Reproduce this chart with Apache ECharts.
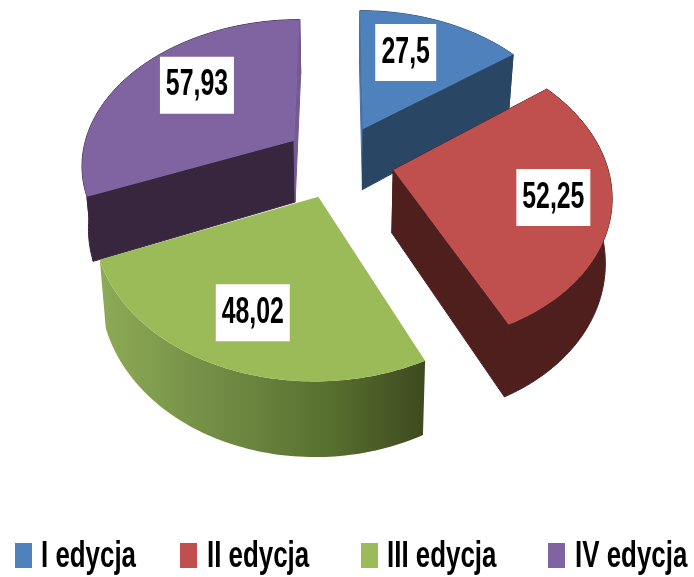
<!DOCTYPE html>
<html><head><meta charset="utf-8">
<style>html,body{margin:0;padding:0;background:#fff}#c{width:694px;height:577px}</style>
<script src="https://cdn.jsdelivr.net/npm/echarts@6/dist/echarts.min.js"></script>
</head><body><div id="c"></div>
<script>
const names = ['I edycja', 'II edycja', 'III edycja', 'IV edycja'];
const values = [27.5, 52.25, 48.02, 57.93];
const valueLabels = ['27,5', '52,25', '48,02', '57,93'];
const topColors = ['#4f81bd', '#c0504d', '#9bbb59', '#8064a2'];
const wallColors = ['#2a4665', '#4f1f1e', null, '#38263f'];
const edgeColors = ['#4674aa', null, null, '#735a92'];

// projection of the tilted pie plane
const P = {cx: 339, cy: 161, K: 213, M: 145, p: 0.15, ex: 0.26, ey: 0.255};
// where each label box sits: radius fraction along the slice's middle angle, then a small nudge
const labelRadius = [0.6, 0.78, 0.72, 0.62];
const labelNudge = [[-7, -9], [-9, -1], [1, -1], [3, -10]];
const swatchLeft = [15, 180, 361, 548];
const textLeft = [41, 207, 387, 575];

const total = values.reduce((a, b) => a + b, 0);
function project(X, Y) {
  const d = 1 - P.p * Y;
  return [P.cx + P.K * X / d, P.cy + P.M * Y / d];
}
function lower(pt) {
  return [pt[0] - (pt[0] - P.cx) * 0.025, pt[1] + 60 + 0.06 * (pt[1] - 120)];
}
function renderer(idx) {
  return function (params, api) {
    const value = api.value(0);
    let before = 0;
    for (let i = 0; i < idx; i++) before += values[i];
    const a0 = before / total * Math.PI * 2;
    const a1 = a0 + value / total * Math.PI * 2;
    const mid = (a0 + a1) / 2;
    const ox = Math.sin(mid) * P.ex, oy = -Math.cos(mid) * P.ey;
    const at = (a, r) => project(ox + Math.sin(a) * r, oy - Math.cos(a) * r);
    const rim = [];
    const steps = 80;
    for (let i = 0; i <= steps; i++) rim.push(at(a0 + (a1 - a0) * i / steps, 1));
    const apex = at(0, 0);
    const rimLow = rim.map(lower);
    const apexLow = lower(apex);
    let wall = wallColors[idx];
    if (!wall) {
      wall = new echarts.graphic.LinearGradient(0, 0, 1, 0, [
        {offset: 0, color: '#8dab56'},
        {offset: 0.35, color: '#738d45'},
        {offset: 0.7, color: '#58702f'},
        {offset: 1, color: '#3d4a1f'}
      ]);
    }
    const children = [];
    const poly = (points, fill, stroke) => children.push({type: 'polygon', shape: {points},
      style: stroke ? {fill, stroke, lineWidth: 1} : {fill}});
    const seam = wallColors[idx];
    const startFace = [apex, rim[0], rimLow[0], apexLow];
    const endFace = [apex, rim[steps], rimLow[steps], apexLow];
    poly(rim.concat(rimLow.slice().reverse()), wall, seam);
    // the green slice shows only its curved wall; its cut faces are hidden from view
    if (idx !== 2) {
      // the thin faces seen nearly edge-on beside the gap at the top are lighter
      if (idx === 0) poly(startFace, edgeColors[idx], edgeColors[idx]); else poly(startFace, wall, seam);
      if (idx === 3) poly(endFace, edgeColors[idx], edgeColors[idx]); else poly(endFace, wall, seam);
    }
    poly([apex].concat(rim), topColors[idx]);
    const lp = at(mid, labelRadius[idx]);
    const cx = lp[0] + labelNudge[idx][0], cy = lp[1] + labelNudge[idx][1];
    const w = idx === 0 ? 61 : 74, h = 57;
    children.push({type: 'rect', shape: {x: cx - w / 2, y: cy - h / 2, width: w, height: h}, style: {fill: '#ffffff'}});
    children.push({type: 'text', x: cx, y: cy, scaleX: 0.69, scaleY: 1,
      style: {text: valueLabels[idx], fontFamily: '"Liberation Sans",sans-serif', fontSize: 36, fontWeight: 'bold', fill: '#000', align: 'center', verticalAlign: 'middle'}});
    return {type: 'group', children};
  };
}
const drawOrder = [0, 3, 1, 2];
const option = {
  animation: false,
  backgroundColor: '#ffffff',
  legend: names.map((n, i) => ({
    data: [n], left: swatchLeft[i], top: 543, padding: 0,
    itemWidth: 17, itemHeight: 25, itemGap: 0, icon: 'rect', selectedMode: false,
    formatter: () => ' ',
    textStyle: {fontSize: 10, color: '#000'}
  })),
  graphic: names.map((n, i) => ({
    type: 'text', x: textLeft[i], y: 557, scaleX: 0.7, scaleY: 1, silent: true,
    style: {text: n, fontFamily: '"Liberation Sans",sans-serif', fontSize: 37, fontWeight: 'bold', fill: '#000', align: 'left', verticalAlign: 'middle'}
  })),
  series: drawOrder.map(i => ({
    type: 'custom', name: names[i], coordinateSystem: 'none',
    itemStyle: {color: topColors[i]},
    renderItem: renderer(i), data: [[values[i]]], silent: true
  }))
};
echarts.init(document.getElementById('c'), null, {renderer: 'canvas'}).setOption(option);
</script></body></html>
